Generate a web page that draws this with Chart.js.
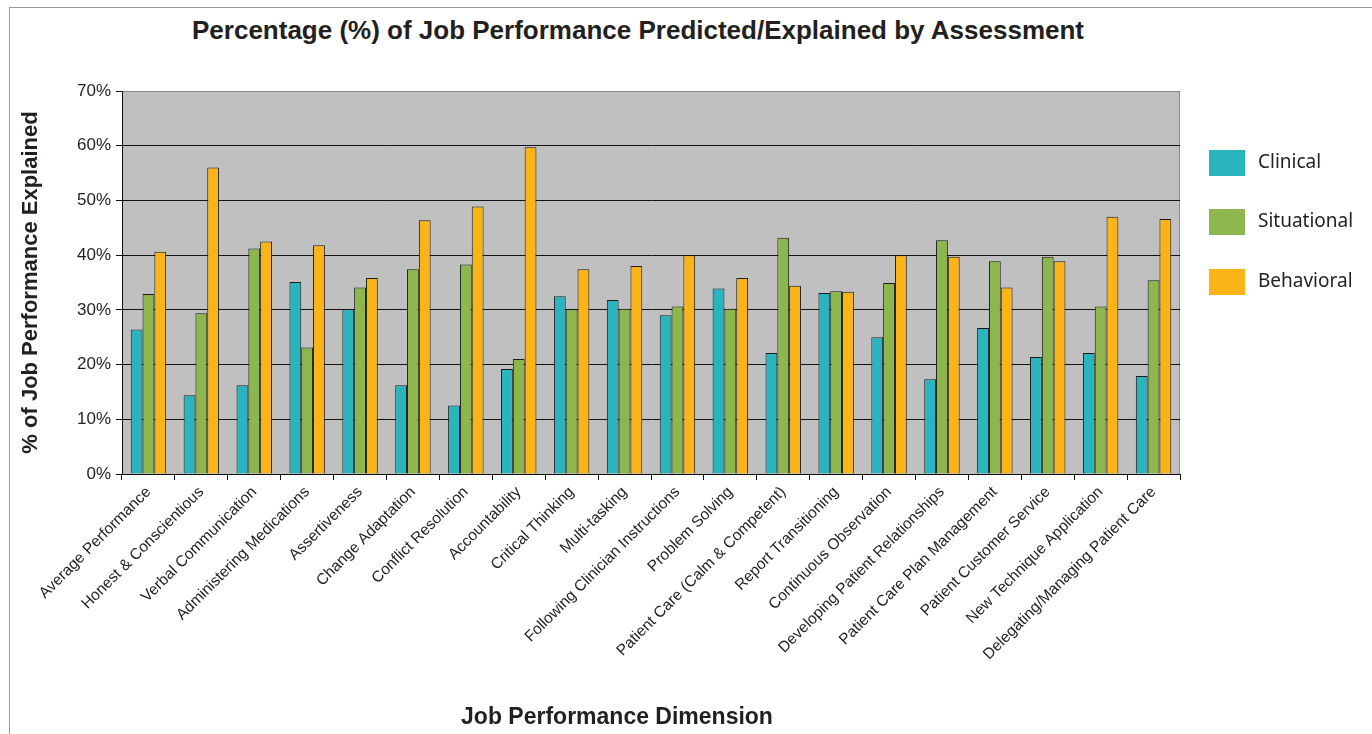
<!DOCTYPE html>
<html>
<head>
<meta charset="utf-8">
<script src="https://cdn.jsdelivr.net/npm/chart.js@4.4.1/dist/chart.umd.min.js"></script>
<style>
  body { margin: 0; background: #fff; font-family: "Liberation Sans", Arial, sans-serif; }
  #frame { position: absolute; left: 9px; top: 7px; width: 1400px; height: 800px;
           border-left: 1px solid #9a9a9a; border-top: 1px solid #9a9a9a; }
  #titulo { position: absolute; left: 0; top: 15px; width: 1276px; text-align: center;
            font: bold 26px "Liberation Sans", Arial, sans-serif; color: #231f20; }
  #tituloX { position: absolute; left: 0; top: 703px; width: 1234px; text-align: center;
             font: bold 23px "Liberation Sans", Arial, sans-serif; color: #231f20; }
  #wrap { position: absolute; left: 0; top: 0; width: 1372px; height: 734px; }
  #leyenda { position: absolute; left: 1209px; top: 150px; font-family: "Noto Sans", sans-serif; }
  .item { position: absolute; left: 0; width: 160px; height: 27px; }
  .caja { position: absolute; left: 0; top: 0; width: 36px; height: 26px; }
  .texto { position: absolute; left: 49px; top: -2px; font-size: 19px; color: #231f20; line-height: 26px; }
</style>
</head>
<body>
<div id="frame"></div>
<div id="titulo">Percentage (%) of Job Performance Predicted/Explained by Assessment</div>
<div id="wrap"><canvas id="grafico" width="1372" height="734"></canvas></div>
<div id="tituloX">Job Performance Dimension</div>
<div id="leyenda"></div>
<script>
// Dimensiones de desempeño (eje X)
const dimensiones = [
    'Average Performance', 'Honest & Conscientious', 'Verbal Communication',
    'Administering Medications', 'Assertiveness', 'Change Adaptation',
    'Conflict Resolution', 'Accountability', 'Critical Thinking', 'Multi-tasking',
    'Following Clinician Instructions', 'Problem Solving', 'Patient Care (Calm & Competent)',
    'Report Transitioning', 'Continuous Observation', 'Developing Patient Relationships',
    'Patient Care Plan Management', 'Patient Customer Service', 'New Technique Application',
    'Delegating/Managing Patient Care'
];

// Porcentajes
const clinical = [26.4, 14.4, 16.2, 35.1, 30.1, 16.2, 12.5, 19.2, 32.5, 31.8,
                  29.0, 33.9, 22.1, 33.1, 25.0, 17.3, 26.7, 21.4, 22.1, 17.9];
const situational = [32.9, 29.4, 41.2, 23.1, 34.1, 37.4, 38.3, 21.0, 30.1, 30.2,
                     30.6, 30.2, 43.2, 33.4, 34.9, 42.7, 38.9, 39.7, 30.6, 35.4];
const behavioral = [40.6, 56.0, 42.5, 41.8, 35.8, 46.4, 48.9, 59.7, 37.4, 38.0,
                    40.0, 35.8, 34.4, 33.3, 40.0, 39.7, 34.1, 38.9, 47.0, 46.6];

const nombresSeries = ['Clinical', 'Situational', 'Behavioral'];
const colores = ['#2ab5be', '#8db74c', '#fab417'];

// Ticks del eje Y
const ticksY = [0, 10, 20, 30, 40, 50, 60, 70];

// Fondo gris del área de trazado
const fondoPlot = {
    id: 'fondoPlot',
    beforeDraw(chart) {
        const a = chart.chartArea;
        const c = chart.ctx;
        c.save();
        c.fillStyle = '#c0c0c0';
        c.fillRect(a.left, a.top, a.right - a.left, a.bottom - a.top);
        c.strokeStyle = '#8a8a8a';
        c.lineWidth = 1;
        c.strokeRect(a.left + 0.5, a.top + 0.5, a.right - a.left - 1, a.bottom - a.top);
        c.restore();
    }
};

const ctx = document.getElementById('grafico').getContext('2d');
const series = [clinical, situational, behavioral];

const myChart = new Chart(ctx, {
    type: 'bar',
    data: {
        labels: dimensiones,
        datasets: series.map((valores, i) => ({
            label: nombresSeries[i],
            data: valores,
            backgroundColor: colores[i],
            borderColor: '#1a1a1a',
            borderWidth: 1,
            borderSkipped: 'bottom',
            barPercentage: 1.0,
            categoryPercentage: 0.67
        }))
    },
    options: {
        responsive: false,
        animation: false,
        layout: { padding: { left: 10, right: 192, top: 91, bottom: 6 } },
        plugins: {
            legend: { display: false },
            tooltip: { enabled: false }
        },
        scales: {
            y: {
                min: 0,
                max: 70,
                afterBuildTicks(scale) {
                    scale.ticks = ticksY.map(v => ({ value: v }));
                },
                afterFit(scale) { scale.width = 112; },
                ticks: {
                    callback: v => v + '%',
                    color: '#231f20',
                    padding: 5,
                    font: { family: '"Liberation Sans", Arial, sans-serif', size: 17 }
                },
                grid: {
                    color: ctx2 => (ctx2.tick && ctx2.tick.value === 70) ? '#8a8a8a' : '#111',
                    tickColor: '#111',
                    tickLength: 6,
                    lineWidth: 1
                },
                border: { display: true, color: '#111' },
                title: {
                    display: true,
                    text: '% of Job Performance Explained',
                    color: '#231f20',
                    padding: { top: 8, bottom: 0 },
                    font: { family: '"Liberation Sans", Arial, sans-serif', size: 22, weight: 'bold' }
                }
            },
            x: {
                afterFit(scale) { scale.height = 734 - 474 - 6; },
                ticks: {
                    minRotation: 45,
                    maxRotation: 45,
                    autoSkip: false,
                    color: '#231f20',
                    padding: 3,
                    font: { family: '"Liberation Sans", Arial, sans-serif', size: 15.5 }
                },
                grid: {
                    drawOnChartArea: false,
                    offset: true,
                    tickColor: '#111',
                    tickLength: 6
                },
                border: { display: true, color: '#111' }
            }
        }
    },
    plugins: [fondoPlot]
});

// Leyenda HTML a la derecha
const leyenda = document.getElementById('leyenda');
const separacion = [0, 59, 119];
nombresSeries.forEach((nombre, i) => {
    const item = document.createElement('div');
    item.className = 'item';
    item.style.top = separacion[i] + 'px';
    item.innerHTML = '<div class="caja" style="background:' + colores[i] + '"></div>' +
                     '<div class="texto">' + nombre + '</div>';
    leyenda.appendChild(item);
});
</script>
</body>
</html>
